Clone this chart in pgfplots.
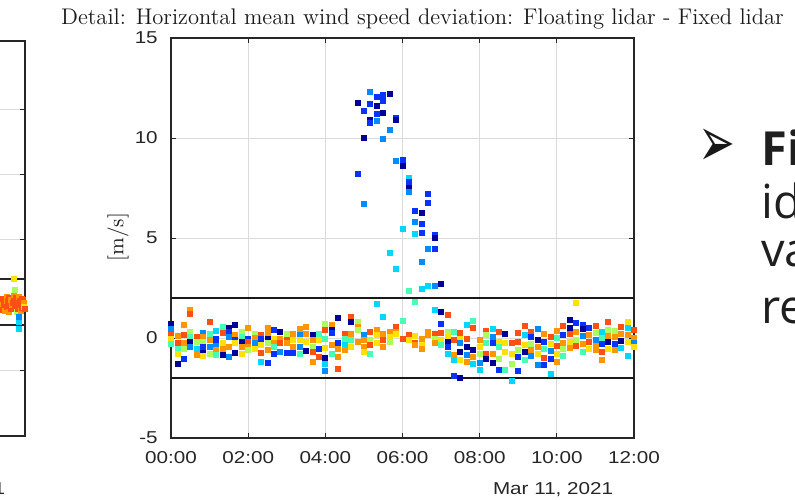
\documentclass[border=0pt]{standalone}
\usepackage{pgfplots}
\pgfplotsset{compat=1.18}
\usepackage{pgfplotstable}
\usepackage{fontspec}
\newfontfamily\ticksans{Liberation Sans}
\newfontfamily\slidefont{Open Sans}
\newfontfamily\symfont{DejaVu Sans}

% jet-like colour steps used to tell the series apart
\definecolor{cN}{RGB}{0,0,150}
\definecolor{cB}{RGB}{10,50,255}
\definecolor{cL}{RGB}{0,140,255}
\definecolor{cC}{RGB}{0,215,255}
\definecolor{cA}{RGB}{70,255,180}
\definecolor{cG}{RGB}{170,255,90}
\definecolor{cY}{RGB}{255,225,0}
\definecolor{cO}{RGB}{255,150,0}
\definecolor{cR}{RGB}{255,80,20}
\definecolor{axisgray}{RGB}{38,38,38}

% deviation [m/s] every 10 min (t in minutes after 00:00), class = colour step
\pgfplotstableread{
t v c
0 0.72 n
0 0.45 l
0 0.18 r
0 -0.05 y
0 -0.30 a
10 0.10 o
10 -0.23 r
10 -0.52 a
10 -0.80 y
10 -1.30 n
20 0.65 o
20 0.15 r
20 -0.23 o
20 -0.55 g
20 -1.02 b
30 1.40 o
30 1.20 r
30 0.32 g
30 0.07 a
30 -0.18 n
30 -0.43 l
40 0.07 r
40 -0.18 g
40 -0.52 c
40 -0.85 o
50 0.28 l
50 0.07 o
50 -0.18 g
50 -0.43 b
50 -0.72 n
50 -0.90 y
60 0.82 r
60 0.23 a
60 -0.07 o
60 -0.43 l
60 -0.77 g
70 0.35 c
70 -0.02 b
70 -0.18 b
70 -0.38 l
70 -0.60 o
70 -0.85 a
80 0.57 a
80 0.28 r
80 -0.23 y
80 -0.52 o
80 -0.85 n
90 0.53 n
90 0.32 b
90 0.07 l
90 -0.43 o
90 -0.93 l
100 0.68 n
100 0.15 o
100 -0.10 b
100 -0.23 y
100 -0.72 n
110 0.32 g
110 0.07 a
110 -0.18 n
110 -0.43 o
110 -0.77 y
120 0.53 o
120 -0.02 b
120 -0.18 r
120 -0.43 o
120 -0.60 g
130 0.23 g
130 0.00 o
130 -0.23 l
130 -0.52 y
140 0.18 r
140 -0.05 b
140 -0.35 y
140 -0.72 r
140 -1.18 c
150 0.52 o
150 0.20 o
150 -0.05 n
150 -0.23 g
150 -0.57 o
150 -1.23 b
160 0.40 b
160 -0.02 y
160 -0.23 o
160 -0.43 a
160 -0.77 b
170 0.32 n
170 -0.02 o
170 -0.23 r
170 -0.68 l
180 0.23 g
180 -0.07 r
180 -0.23 o
180 -0.72 b
190 0.23 o
190 -0.10 y
190 -0.43 o
190 -0.72 b
200 0.48 o
200 0.18 l
200 -0.10 y
200 -0.43 l
200 -0.77 a
210 0.57 o
210 0.23 o
210 -0.18 y
210 -0.63 n
220 0.15 n
220 -0.10 o
220 -0.43 g
220 -0.68 r
220 -1.18 o
230 0.23 a
230 -0.10 y
230 -0.52 b
230 -0.93 r
240 0.72 g
240 0.40 r
240 -0.02 a
240 -0.50 y
240 -1.00 n
240 -1.30 c
240 -1.63 l
250 0.65 o
250 0.40 n
250 0.27 b
250 -0.35 o
250 -0.77 a
260 1.00 n
260 -0.23 b
260 -0.52 o
260 -0.93 o
260 -1.52 r
270 0.23 r
270 -0.02 a
270 -0.35 c
270 -0.60 o
280 1.07 r
280 0.82 n
280 0.23 o
280 -0.10 a
280 -0.43 y
290 0.82 g
290 0.57 o
290 0.40 g
290 -0.18 o
300 0.15 l
300 -0.10 o
300 -0.43 o
300 -0.68 y
310 0.32 r
310 -0.10 g
310 -0.35 r
310 -0.77 a
320 1.70 c
320 0.40 o
320 0.15 y
320 -0.23 y
330 1.05 c
330 0.20 o
330 -0.10 r
330 -0.45 o
340 0.32 o
340 0.07 y
340 -0.18 g
350 0.57 r
350 0.32 o
350 0.20 y
360 0.87 a
360 -0.05 r
370 0.18 r
370 -0.10 y
380 0.10 y
380 -0.22 r
380 -0.35 o
390 -0.05 o
390 -0.35 y
390 -0.55 o
400 0.32 o
400 0.18 o
410 1.40 c
410 0.23 r
410 -0.02 g
410 -0.23 o
420 1.32 n
420 0.70 b
420 0.27 r
420 -0.10 y
420 -0.35 a
430 1.17 r
430 0.32 g
430 0.07 y
430 -0.18 n
430 -0.43 b
430 -0.77 c
440 0.32 a
440 -0.10 r
440 -0.85 o
440 -1.10 c
440 -1.90 b
450 0.27 r
450 -0.02 y
450 -0.23 l
450 -0.68 n
450 -1.10 y
450 -2.00 n
460 0.65 c
460 -0.02 r
460 -0.43 n
460 -0.85 l
460 -1.18 o
470 0.88 a
470 0.53 r
470 -0.60 n
470 -0.93 o
470 -1.27 c
480 -0.10 o
480 -0.43 y
480 -0.80 g
480 -1.23 l
480 -1.60 c
490 0.37 r
490 0.15 g
490 -0.23 a
490 -0.77 r
490 -1.02 n
500 0.48 c
500 0.07 l
500 -0.23 b
500 -0.77 o
500 -1.23 n
510 0.32 r
510 -0.18 y
510 -0.43 a
510 -1.02 g
510 -1.60 b
520 0.23 n
520 -0.23 y
520 -0.68 y
520 -1.60 a
530 -0.23 r
530 -0.77 y
530 -1.27 g
530 -2.15 c
540 0.25 r
540 -0.18 r
540 -0.60 g
540 -0.93 b
540 -1.65 b
550 0.60 r
550 0.18 c
550 -0.35 y
550 -0.70 n
550 -1.10 a
560 0.32 r
560 0.05 b
560 -0.30 g
560 -0.60 o
560 -0.90 l
570 0.45 l
570 -0.10 n
570 -0.45 o
570 -0.80 y
570 -1.35 l
580 0.20 o
580 -0.20 b
580 -0.55 a
580 -1.00 r
580 -1.35 b
590 0.05 r
590 -0.30 y
590 -0.65 l
590 -1.05 b
590 -1.77 c
600 0.35 o
600 0.00 a
600 -0.40 r
600 -0.80 y
600 -1.20 o
610 0.60 r
610 0.15 b
610 -0.25 o
610 -0.55 g
610 -0.90 a
620 0.93 n
620 0.53 n
620 0.20 r
620 -0.20 y
620 -0.50 o
630 1.77 y
630 0.78 b
630 0.30 o
630 -0.10 g
630 -0.40 r
640 0.68 b
640 0.45 n
640 0.10 l
640 -0.30 o
640 -0.70 a
650 0.50 b
650 0.15 o
650 -0.20 r
650 -0.55 y
660 0.60 r
660 0.25 g
660 -0.10 l
660 -0.40 o
660 -0.60 o
670 0.30 c
670 0.00 a
670 -0.30 b
670 -0.70 r
670 -1.10 o
680 0.82 r
680 0.40 g
680 0.10 o
680 -0.20 n
680 -0.55 y
690 0.35 g
690 0.05 o
690 -0.30 b
690 -0.60 o
700 0.55 r
700 0.20 o
700 -0.15 n
700 -0.50 c
710 0.82 y
710 0.50 c
710 0.15 o
710 -0.20 y
710 -0.90 c
720 0.40 r
720 0.00 o
720 -0.25 l
720 -0.45 y
290 11.78 n
290 8.20 b
300 11.37 b
300 10.03 n
300 6.73 l
310 12.30 l
310 11.70 b
310 10.90 n
310 10.77 b
320 12.07 b
320 11.60 n
320 11.20 b
320 10.87 l
330 12.18 b
330 11.87 b
330 11.27 n
330 9.95 l
340 12.20 n
340 10.43 l
340 4.28 c
350 11.02 b
350 10.90 n
350 8.85 l
350 3.48 c
360 8.93 b
360 8.73 b
360 8.62 n
360 5.48 c
370 8.03 c
370 7.82 b
370 7.50 n
370 7.32 l
370 2.37 a
380 6.37 b
380 5.82 l
380 5.23 c
380 1.80 a
390 6.25 n
390 5.73 b
390 5.28 b
390 3.80 l
390 2.45 c
400 7.20 b
400 6.77 b
400 4.45 l
400 2.62 c
410 5.15 b
410 5.02 n
410 4.45 b
410 2.62 l
420 2.73 n
}\devdata

% trailing end of the neighbouring panel
\pgfplotstableread{
t v c
92.00 0.30 r
92.15 0.10 o
92.30 -0.20 o
92.60 0.50 r
92.75 -0.35 r
92.90 0.00 r
93.20 -0.40 o
93.35 0.45 r
93.50 0.20 r
93.80 0.60 o
93.95 0.15 o
94.10 -0.10 r
94.40 0.30 r
94.55 0.55 r
94.70 -0.50 o
95.00 0.10 r
95.15 -0.25 r
95.30 0.40 o
95.60 -0.30 r
95.75 0.00 o
95.90 0.20 r
96.20 0.70 o
96.35 0.30 r
96.40 2.00 y
96.50 1.20 g
96.60 -0.20 r
96.90 0.40 r
97.05 0.55 r
97.20 -0.50 g
97.50 0.10 r
97.65 -0.30 r
97.80 0.60 o
98.00 -1.30 c
98.00 -1.80 c
98.00 -0.90 l
98.10 -0.10 r
98.25 0.45 o
98.40 0.30 r
98.70 -0.40 o
98.85 -0.20 r
99.00 0.50 r
99.30 0.00 r
99.45 0.40 r
99.60 0.20 o
99.75 -0.10 y
99.90 -0.30 r
}\prevdata

\pgfplotsset{
  matlabbox/.style={
    scale only axis,
    tick align=inside, major tick length=2.5pt,
    tick style={axisgray, line width=0.5pt},
    axis line style={axisgray, line width=0.7pt},
    grid=major, major grid style={line width=0.5pt, gray!28},
    /pgf/number format/assume math mode=true,
    every tick label/.append style={font=\ticksans\fontsize{8.6}{10}\selectfont, text=axisgray, xscale=1.2},
  },
  jetclasses/.style={
    scatter, only marks, scatter src=explicit symbolic,
    mark=square*, mark size=1.25pt,
    scatter/classes={
      n={mark=square*,draw=cN,fill=cN},
      b={mark=square*,draw=cB,fill=cB},
      l={mark=square*,draw=cL,fill=cL},
      c={mark=square*,draw=cC,fill=cC},
      a={mark=square*,draw=cA,fill=cA},
      g={mark=square*,draw=cG,fill=cG},
      y={mark=square*,draw=cY,fill=cY},
      o={mark=square*,draw=cO,fill=cO},
      r={mark=square*,draw=cR,fill=cR}},
  },
}

\begin{document}
\begin{tikzpicture}
\useasboundingbox (0,0) rectangle (397.5pt,249.5pt);
\clip (0,0) rectangle (397.5pt,249.5pt);

% neighbouring panel, only its right edge falls inside the page
\begin{axis}[matlabbox,
  at={(12.5pt,31.5pt)}, anchor=south east,
  width=150pt, height=197.5pt,
  xmin=0, xmax=100, ymin=-10, ymax=20.2,
  xtick={0,50,100}, xticklabels={}, ytick={-5,0,5,10,15}, yticklabels={}]
  \addplot[axisgray, line width=1.1pt] coordinates {(0,2) (100,2)};
  \addplot[axisgray, line width=1.1pt] coordinates {(0,-1.5) (100,-1.5)};
  \addplot[jetclasses] table[x=t, y=v, meta=c] {\prevdata};
\end{axis}

% detail panel
\begin{axis}[matlabbox,
  at={(85.5pt,30.5pt)}, anchor=south west,
  width=231.5pt, height=200pt,
  xmin=0, xmax=720, ymin=-5, ymax=15,
  xtick={0,120,...,720},
  xticklabels={00:00,02:00,04:00,06:00,08:00,10:00,12:00},
  ytick={-5,0,...,15},
  yticklabels={-5,0,5,10,15},
  xticklabel style={yshift=-3pt},
  yticklabel style={xshift=-2pt},
  clip=false]
  \addplot[black!90, line width=1.1pt] coordinates {(0,2) (720,2)};
  \addplot[black!90, line width=1.1pt] coordinates {(0,-2) (720,-2)};
  \addplot[jetclasses] table[x=t, y=v, meta=c] {\devdata};
\end{axis}

\node[anchor=base, font=\fontsize{11.3}{13}\selectfont, text=black!90]
  at (211.25pt,237pt) {Detail: Horizontal mean wind speed deviation: Floating lidar - Fixed lidar};
\node[rotate=90, font=\fontsize{10.6}{12}\selectfont, text=black!90] at (59pt,131pt) {[m/s]};

\node[anchor=base east, inner sep=0pt, font=\ticksans\fontsize{8.6}{10}\selectfont, text=axisgray, xscale=1.2]
  at (306.8pt,2.5pt) {Mar 11, 2021};
\node[anchor=base east, inner sep=0pt, font=\ticksans\fontsize{8.6}{10}\selectfont, text=axisgray, xscale=1.2]
  at (2.8pt,2.5pt) {Mar 10, 2021};

% slide text beside the chart
\node[inner sep=0pt, font=\symfont\fontsize{22}{24}\selectfont, text=black!90, yscale=1.6] at (358.5pt,175.75pt) {➢};
\node[anchor=base west, inner sep=0pt, font=\slidefont\bfseries\fontsize{23.5}{26}\selectfont, text=black!88] at (380.5pt,167pt) {Fi};
\node[anchor=base west, inner sep=0pt, font=\slidefont\fontsize{23.5}{26}\selectfont, text=black!88] at (380.5pt,140.35pt) {id};
\node[anchor=base west, inner sep=0pt, font=\slidefont\fontsize{23.5}{26}\selectfont, text=black!88] at (380.5pt,116.15pt) {va};
\node[anchor=base west, inner sep=0pt, font=\slidefont\fontsize{23.5}{26}\selectfont, text=black!88] at (380.5pt,87.85pt) {re};
\end{tikzpicture}
\end{document}
